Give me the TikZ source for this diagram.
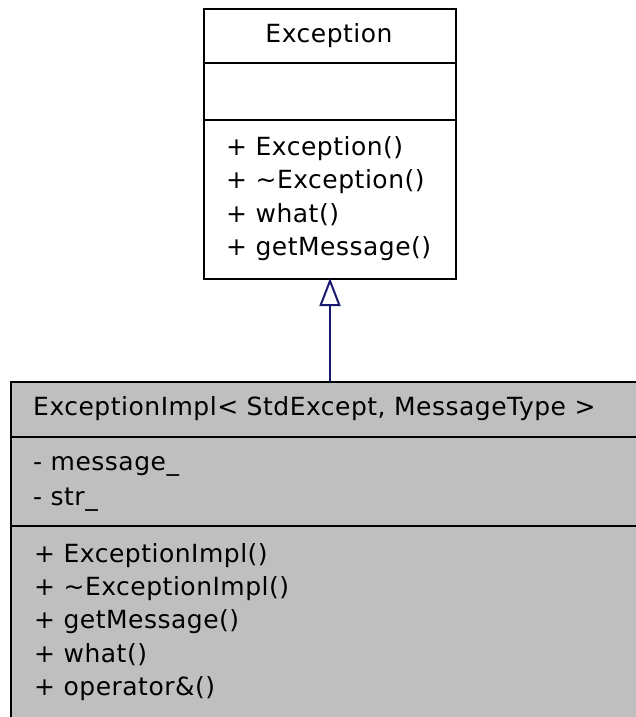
\documentclass[tikz,border=0pt]{standalone}
\usepackage{fontspec}
\setmainfont{DejaVu Sans}[LetterSpace=2]
\usetikzlibrary{arrows.meta}
\definecolor{edgeblue}{HTML}{191970}
\definecolor{classgray}{HTML}{BFBFBF}
\tikzset{
  classbox/.style={draw=black, line width=2pt, inner sep=0pt, anchor=north west},
  divider/.style={draw=black, line width=2pt},
  member/.style={anchor=base west, inner sep=0pt, font=\fontsize{25}{33}\selectfont},
  heading/.style={inner sep=0pt, font=\fontsize{25}{33}\selectfont},
  inherit/.style={draw=edgeblue, line width=2pt, shorten >=-2pt,
    -{Triangle[open, length=28pt, width=21pt, line width=2pt]}}
}
\begin{document}
\begin{tikzpicture}[x=1pt,y=-1pt]
\useasboundingbox (0,0) rectangle (635,717);

% base class
\node[classbox, fill=white, minimum width=252pt, minimum height=270pt] (base) at (203,8) {};
\draw[divider] (203,63) coordinate (b1l) -- (455,63) coordinate (b1r);
\draw[divider] (203,120) coordinate (b2l) -- (455,120) coordinate (b2r);
\node[heading, anchor=base] (basename) at (329,43) {Exception};
\node[member] (bm1) at (226,155) {+ Exception()};
\node[member] (bm2) at (226,188.5) {+ \textasciitilde Exception()};
\node[member] (bm3) at (226,222) {+ what()};
\node[member] (bm4) at (226,255.5) {+ getMessage()};

% derived class (runs past the right and bottom edges)
\node[classbox, fill=classgray, minimum width=638pt, minimum height=360pt] (derived) at (10,381) {};
\draw[divider] (10,437) coordinate (d1l) -- (650,437) coordinate (d1r);
\draw[divider] (10,526) coordinate (d2l) -- (650,526) coordinate (d2r);
\node[member] (dname) at (33,415) {ExceptionImpl< StdExcept, MessageType >};
\node[member] (da1) at (33,470) {- message\_};
\node[member] (da2) at (33,505) {- str\_};
\node[member] (dm1) at (34,562) {+ ExceptionImpl()};
\node[member] (dm2) at (34,595) {+ \textasciitilde ExceptionImpl()};
\node[member] (dm3) at (34,628.5) {+ getMessage()};
\node[member] (dm4) at (34,662) {+ what()};
\node[member] (dm5) at (34,695) {+ operator\&()};

% generalisation
\draw[inherit] (derived.north) -- (base.south);
\end{tikzpicture}
\end{document}
